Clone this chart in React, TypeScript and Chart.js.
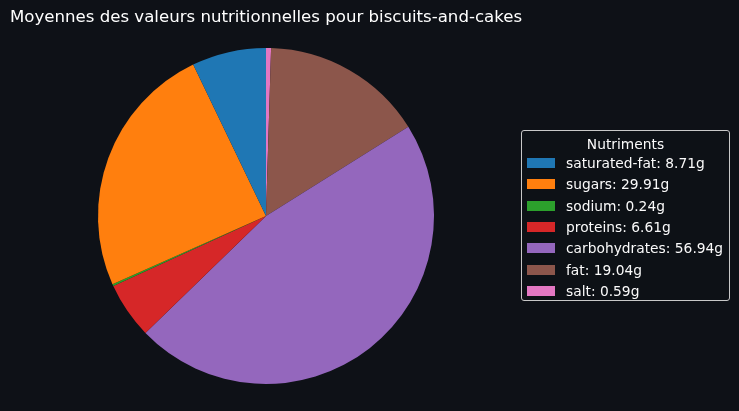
import React, { useEffect, useRef } from "react";
import { Chart, registerables } from "chart.js";

Chart.register(...registerables);

const TITLE = "Moyennes des valeurs nutritionnelles pour biscuits-and-cakes";
const LEGEND_TITLE = "Nutriments";
const NUTRIENTS = ["saturated-fat", "sugars", "sodium", "proteins", "carbohydrates", "fat", "salt"];
const VALUES = [8.71, 29.91, 0.24, 6.61, 56.94, 19.04, 0.59];
const COLORS = ["#1f77b4", "#ff7f0e", "#2ca02c", "#d62728", "#9467bd", "#8c564b", "#e377c2"];

const BG = "#0e1117";

export default function App() {
  const ref = useRef<HTMLCanvasElement | null>(null);

  useEffect(() => {
    document.body.style.margin = "0";
    document.body.style.background = BG;
    const ctx = ref.current!.getContext("2d")!;
    // matplotlib draws counter-clockwise from the top; Chart.js draws clockwise,
    // so feed the slices in reverse order.
    const labels = NUTRIENTS.map((n, i) => `${n}: ${VALUES[i].toFixed(2)}g`).reverse();
    const data = [...VALUES].reverse();
    const colors = [...COLORS].reverse();
    const chart = new Chart(ctx, {
      type: "pie",
      data: {
        labels,
        datasets: [
          {
            data,
            backgroundColor: colors,
            borderWidth: 0,
          },
        ],
      },
      options: {
        responsive: false,
        animation: false,
        layout: { padding: { left: 98, right: 305, top: 48, bottom: 27 } },
        plugins: {
          legend: { display: false },
          tooltip: { enabled: false },
          title: { display: false },
        },
      },
    });
    return () => chart.destroy();
  }, []);

  const font = "'DejaVu Sans', sans-serif";

  return (
    <div style={{ position: "absolute", left: 0, top: 0, width: 739, height: 411, background: BG, overflow: "hidden" }}>
      <canvas ref={ref} width={739} height={411} style={{ position: "absolute", left: 0, top: 0 }} />
      <div
        style={{
          position: "absolute",
          left: 10,
          top: 7,
          fontFamily: font,
          fontSize: 16.6,
          color: "#ffffff",
          whiteSpace: "nowrap",
          lineHeight: "20px",
        }}
      >
        {TITLE}
      </div>
      <div
        style={{
          position: "absolute",
          left: 521,
          top: 130,
          width: 207,
          height: 169,
          border: "1px solid #c8c8c8",
          borderRadius: 3,
          background: "rgba(14,17,23,0.8)",
          fontFamily: font,
          fontSize: 13.8,
          color: "#fafafa",
          boxSizing: "content-box",
        }}
      >
        <div style={{ position: "absolute", left: 0, right: 0, top: 5, textAlign: "center", lineHeight: "16px" }}>
          {LEGEND_TITLE}
        </div>
        {NUTRIENTS.map((n, i) => (
          <div
            key={n}
            style={{
              position: "absolute",
              left: 5,
              top: 24 + i * 21.3,
              height: 16,
              display: "flex",
              alignItems: "center",
              whiteSpace: "nowrap",
            }}
          >
            <span style={{ display: "inline-block", width: 28, height: 10, background: COLORS[i], marginRight: 11 }} />
            <span style={{ lineHeight: "16px" }}>{`${n}: ${VALUES[i].toFixed(2)}g`}</span>
          </div>
        ))}
      </div>
    </div>
  );
}
